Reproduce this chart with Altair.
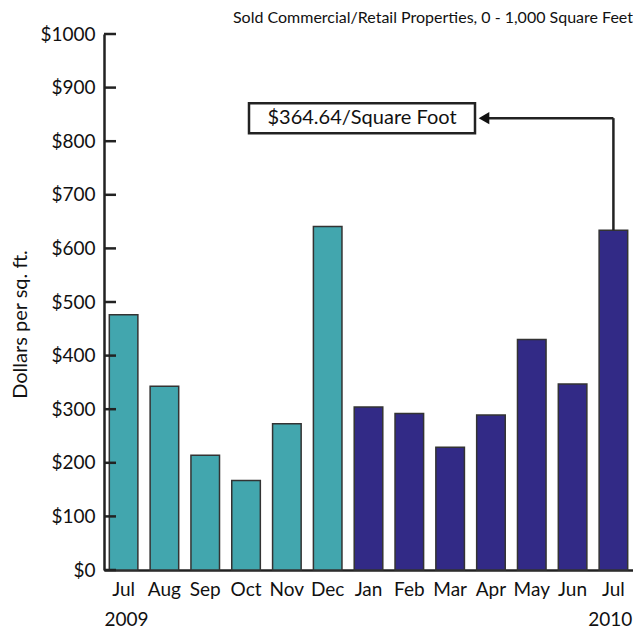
import altair as alt
import pandas as pd

months = ["Jul 2009", "Aug", "Sep", "Oct", "Nov", "Dec", "Jan", "Feb", "Mar", "Apr", "May", "Jun", "Jul 2010"]
values = [476, 343, 214, 167, 273, 641, 304, 292, 229, 289, 430, 347, 634]
years = ["2009"] * 6 + ["2010"] * 7
tick_values = list(range(0, 1001, 100))
year_labels = [("Jul 2009", "2009"), ("Jul 2010", "2010")]

annotation_text = "$364.64/Square Foot"
annot_month = "Jul 2010"
annot_y = 843
box_y1, box_y2 = 815, 871

FONT = "Lato"
TEAL = "#42A6AE"
NAVY = "#322A86"

df = pd.DataFrame({"month": months, "value": values, "year": years})

x_scale = alt.Scale(domain=months, paddingInner=0.3, paddingOuter=0.13)
y_scale = alt.Scale(domain=[0, 1000], nice=False)

bars = alt.Chart(df).mark_bar(stroke="#333333", strokeWidth=1.5).encode(
    x=alt.X("month:N", scale=x_scale, sort=months,
            axis=alt.Axis(title=None, labelExpr="split(datum.value, ' ')[0]", labelAngle=0,
                          ticks=False, labelPadding=10, labelFontSize=19, labelFont=FONT,
                          labelColor="#111", domainColor="#222", domainWidth=2.5,
                          labelBaseline="top")),
    y=alt.Y("value:Q", scale=y_scale,
            axis=alt.Axis(title="Dollars per sq. ft.", values=tick_values, ticks=False,
                          labelExpr="'$' + datum.value", labelFontSize=19, labelFont=FONT,
                          labelColor="#111", labelPadding=9, grid=False,
                          domainColor="#222", domainWidth=2.5,
                          titleFont=FONT, titleFontSize=20, titleFontWeight="normal",
                          titleColor="#111", titleX=-84, titleY=290, titleBaseline="middle",
                          titleAngle=-90)),
    color=alt.Color("year:N", scale=alt.Scale(domain=["2009", "2010"], range=[TEAL, NAVY]),
                    legend=None),
)

ticks_df = pd.DataFrame({"v": tick_values})
ticks = alt.Chart(ticks_df).mark_rule(color="#222", strokeWidth=2.5).encode(
    x=alt.value(0), x2=alt.value(12), y=alt.Y("v:Q", scale=y_scale)
)

yr_df = pd.DataFrame({"month": [m for m, _ in year_labels], "yr": [y for _, y in year_labels]})
yr_first = alt.Chart(yr_df.iloc[[0]]).mark_text(font=FONT, fontSize=19, color="#111",
                                                baseline="middle", align="center", dx=3).encode(
    x=alt.X("month:N", scale=x_scale, sort=months), y=alt.value(586), text="yr:N"
)
yr_last = alt.Chart(yr_df.iloc[[1]]).mark_text(font=FONT, fontSize=19, color="#111",
                                               baseline="middle", align="right", dx=19).encode(
    x=alt.X("month:N", scale=x_scale, sort=months), y=alt.value(586), text="yr:N"
)

ann_df = pd.DataFrame({"month": [annot_month], "top": [values[-1]], "y": [annot_y],
                       "y1": [box_y1], "y2": [box_y2], "text": [annotation_text]})

vline = alt.Chart(ann_df).mark_rule(color="#222", strokeWidth=2.5).encode(
    x=alt.X("month:N", scale=x_scale, sort=months),
    y=alt.Y("top:Q", scale=y_scale), y2="y:Q"
)
hline = alt.Chart(ann_df).mark_rule(color="#222", strokeWidth=2.5).encode(
    x=alt.X("month:N", scale=x_scale, sort=months), x2=alt.value(381),
    y=alt.Y("y:Q", scale=y_scale)
)
head = alt.Chart(ann_df).mark_point(shape="triangle-left", filled=True, color="#111",
                                     size=150, opacity=1).encode(
    x=alt.value(380), y=alt.Y("y:Q", scale=y_scale)
)
box = alt.Chart(ann_df).mark_rect(fill="white", stroke="#222", strokeWidth=2.5).encode(
    x=alt.value(145), x2=alt.value(371),
    y=alt.Y("y1:Q", scale=y_scale), y2="y2:Q"
)
label = alt.Chart(ann_df).mark_text(font=FONT, fontSize=20, color="#111").encode(
    x=alt.value(258), y=alt.Y("y:Q", scale=y_scale), text="text:N"
)

chart = alt.layer(bars, ticks, yr_first, yr_last, vline, hline, head, box, label).properties(
    width=529, height=536,
    autosize=alt.AutoSizeParams(type="none"),
    padding={"left": 96, "top": 26, "right": 0, "bottom": 64},
    title=alt.TitleParams("Sold Commercial/Retail Properties, 0 - 1,000 Square Feet",
                          anchor="end", frame="group", font=FONT, fontSize=16,
                          fontWeight="normal", color="#111", offset=-1),
).configure_view(stroke=None).resolve_scale(x="shared", y="shared")

chart.save("out.html", embed_options={"renderer": "svg", "actions": False})
